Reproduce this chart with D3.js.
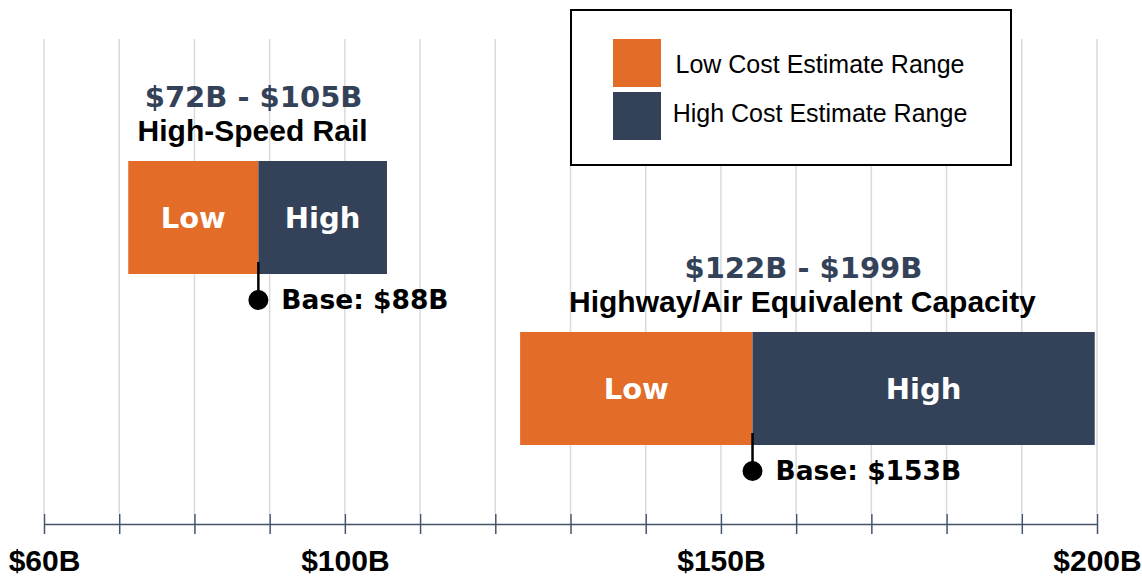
<!DOCTYPE html>
<html>
<head>
<meta charset="utf-8">
<script src="https://cdn.jsdelivr.net/npm/d3@7"></script>
<style>
  body { margin: 0; background: #fff; }
  svg { display: block; }
</style>
</head>
<body>
<svg width="1142" height="576"></svg>
<script>
// data
var projects = ["High-Speed Rail", "Highway/Air Equivalent Capacity"];
var lowValues = [71.2, 123.3];
var baseValues = [88.5, 154.2];
var highValues = [105.6, 199.7];
var rangeLabels = ["$72B - $105B", "$122B - $199B"];
var baseLabels = ["Base: $88B", "Base: $153B"];
var tickValues = [60, 70, 80, 90, 100, 110, 120, 130, 140, 150, 160, 170, 180, 190, 200];
var labelledTicks = [60, 100, 150, 200];
var legendLabels = ["Low Cost Estimate Range", "High Cost Estimate Range"];

var ORANGE = "#e36c29",
    NAVY = "#344259",
    ARIAL = "'Liberation Sans', Arial, sans-serif",
    HEAVY = "'DejaVu Sans', sans-serif";

var svg = d3.select("svg");

var x = d3.scaleLinear().domain([60, 200]).range([44, 1097]);
var y = d3.scaleBand().domain(projects).range([161, 445]).paddingInner(0.339).paddingOuter(0);

var data = projects.map(function (p, i) {
    return {name: p, low: lowValues[i], base: baseValues[i], high: highValues[i],
        range: rangeLabels[i], baseLabel: baseLabels[i]};
});

// gridlines
svg.append("g").selectAll("line")
    .data(tickValues)
    .enter().append("line")
    .attr("x1", function (d) { return x(d); })
    .attr("x2", function (d) { return x(d); })
    .attr("y1", 39)
    .attr("y2", 514)
    .attr("stroke", "#dadada")
    .attr("stroke-width", 1.5);

// axis
var axis = svg.append("g")
    .attr("transform", "translate(0,524)")
    .call(d3.axisBottom(x)
        .tickValues(tickValues)
        .tickSizeOuter(0)
        .tickFormat(function (d) { return labelledTicks.indexOf(d) >= 0 ? "$" + d + "B" : ""; }));
axis.select(".domain").attr("stroke", "#44546a").attr("stroke-width", 1.5);
axis.selectAll(".tick line").attr("y1", -10).attr("y2", 10)
    .attr("stroke", "#44546a").attr("stroke-width", 1.5);
axis.selectAll(".tick text")
    .attr("y", 47).attr("dy", 0)
    .attr("fill", "#000")
    .style("font-family", ARIAL)
    .style("font-weight", "bold")
    .style("font-size", "30px");

// legend
var legend = svg.append("g");
legend.append("rect")
    .attr("x", 571).attr("y", 10).attr("width", 440).attr("height", 155)
    .attr("fill", "#fff").attr("stroke", "#000").attr("stroke-width", 2);
legend.selectAll(".sw")
    .data([ORANGE, NAVY])
    .enter().append("rect")
    .attr("x", 613)
    .attr("y", function (d, i) { return 39 + i * 53; })
    .attr("width", 48).attr("height", 48)
    .attr("fill", function (d) { return d; });
legend.selectAll(".lt")
    .data(legendLabels)
    .enter().append("text")
    .attr("x", 820)
    .attr("y", function (d, i) { return 73 + i * 49; })
    .attr("text-anchor", "middle")
    .style("font-family", ARIAL)
    .style("font-size", "25px")
    .text(function (d) { return d; });

// bars
var g = svg.append("g").selectAll("g")
    .data(data)
    .enter().append("g");

g.append("rect")
    .attr("x", function (d) { return x(d.low); })
    .attr("y", function (d) { return y(d.name); })
    .attr("width", function (d) { return x(d.base) - x(d.low); })
    .attr("height", y.bandwidth())
    .attr("fill", ORANGE);

g.append("rect")
    .attr("x", function (d) { return x(d.base); })
    .attr("y", function (d) { return y(d.name); })
    .attr("width", function (d) { return x(d.high) - x(d.base); })
    .attr("height", y.bandwidth())
    .attr("fill", NAVY);

g.append("text")
    .attr("x", function (d) { return (x(d.low) + x(d.base)) / 2; })
    .attr("y", function (d) { return y(d.name) + y.bandwidth() / 2 + 10.5; })
    .attr("text-anchor", "middle")
    .attr("fill", "#fff")
    .style("font-family", HEAVY).style("font-weight", "bold").style("font-size", "29px")
    .text("Low");

g.append("text")
    .attr("x", function (d) { return (x(d.base) + x(d.high)) / 2; })
    .attr("y", function (d) { return y(d.name) + y.bandwidth() / 2 + 10.5; })
    .attr("text-anchor", "middle")
    .attr("fill", "#fff")
    .style("font-family", HEAVY).style("font-weight", "bold").style("font-size", "29px")
    .text("High");

// range + title labels
g.append("text")
    .attr("x", function (d) { return (x(d.low) + x(d.high)) / 2 - 4; })
    .attr("y", function (d) { return y(d.name) - 54; })
    .attr("text-anchor", "middle")
    .attr("fill", NAVY)
    .style("font-family", HEAVY).style("font-weight", "bold").style("font-size", "29px")
    .text(function (d) { return d.range; });

g.append("text")
    .attr("x", function (d) { return (x(d.low) + x(d.high)) / 2 - 5; })
    .attr("y", function (d) { return y(d.name) - 20; })
    .attr("text-anchor", "middle")
    .attr("fill", "#000")
    .style("font-family", ARIAL).style("font-weight", "bold").style("font-size", "30px")
    .text(function (d) { return d.name; });

// base marker
var dropY = function (d) { return y(d.name) + y.bandwidth() + 26; };

g.append("line")
    .attr("x1", function (d) { return x(d.base); })
    .attr("x2", function (d) { return x(d.base); })
    .attr("y1", function (d) { return y(d.name) + y.bandwidth() - 12; })
    .attr("y2", dropY)
    .attr("stroke", "#000").attr("stroke-width", 2.5);

g.append("circle")
    .attr("cx", function (d) { return x(d.base); })
    .attr("cy", dropY)
    .attr("r", 10)
    .attr("fill", "#000");

g.append("text")
    .attr("x", function (d) { return x(d.base) + 23; })
    .attr("y", function (d) { return dropY(d) + 9; })
    .attr("fill", "#000")
    .style("font-family", HEAVY).style("font-weight", "bold").style("font-size", "26.5px")
    .text(function (d) { return d.baseLabel; });
</script>
</body>
</html>
